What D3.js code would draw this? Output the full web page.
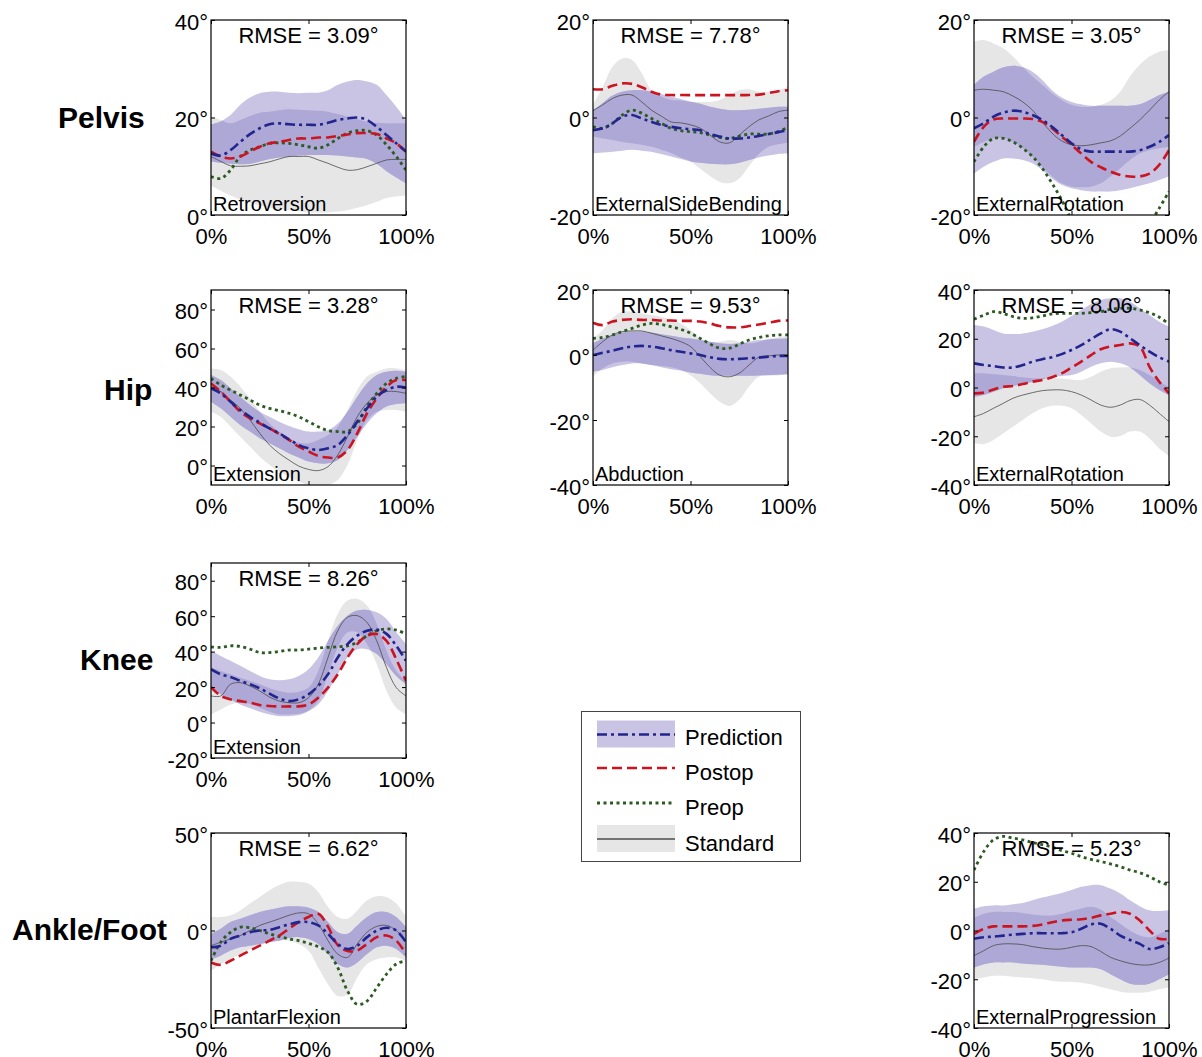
<!DOCTYPE html>
<html><head><meta charset="utf-8">
<script src="https://cdn.jsdelivr.net/npm/d3@7"></script>
<style>
body{margin:0;background:#fff;}
svg{display:block;font-family:"Liberation Sans",Arial,Helvetica,sans-serif;}
</style></head><body>
<svg id="chart" width="1202" height="1057"></svg>
<script>
// gait cycle (%)
const pct = [0,5,10,15,20,25,30,35,40,45,50,55,60,65,70,75,80,85,90,95,100];
const xTicks = [0,50,100];

// ---- Pelvis Retroversion ----
const retroPred   = [12.6,12.2,13.3,15,16.6,17.8,18.6,18.8,18.6,18.5,18.5,18.5,18.9,19.5,19.8,20,19.5,18.1,16.4,14.7,13];
const retroPredHi = [18.6,19.2,20.5,22.6,24.1,25.0,25.3,25.3,25.1,25.0,25.1,25.1,25.6,26.7,27.4,27.7,27.4,26.7,24.6,22.2,19.5];
const retroPredLo = [11,10.7,10.5,10.4,10.5,11,11.5,11.8,12,12.2,12.3,12.3,12.3,12.2,12,11.8,11.5,10.5,9,7.7,6.5];
const retroPost   = [13,12,11.6,12,13,14,14.7,15,15.4,15.7,15.7,15.9,15.9,16.2,16.5,16.8,16.8,16.6,15.7,14.7,13];
const retroPre    = [7.9,7.5,9.2,12,13.3,14,14.7,14.8,14.7,14.4,14,13.7,14.4,15.7,16.8,17.3,17.3,16.4,14.4,12,9.2];
const retroStd    = [12,11,10.1,10,10.1,10.5,10.9,11.5,12,12,12,11.3,10.6,9.8,9.2,9.3,9.9,10.6,11.3,11.4,11.4];
const retroStdHi  = [20.2,19.5,18.8,19.5,20.3,21,21.2,21.5,21.7,21.6,21.5,21.4,21.2,20.7,20.2,19.7,19.1,18.9,18.8,18.8,18.8];
const retroStdLo  = [6,5,4,3.2,2.5,2,1.5,1.2,1,0.8,0.5,0.5,0.5,0.7,1,1.5,2,2.7,3.5,3.8,4];

// ---- Pelvis External Side Bending ----
const sidePred   = [-2.6,-2.2,-1.2,0.2,0.5,-0.2,-0.9,-1.5,-1.9,-2.2,-2.4,-2.6,-3.4,-3.9,-4.3,-4.3,-4.1,-3.8,-3.4,-3,-2.6];
const sidePredHi = [1.5,3,4.5,5.3,5.6,5.6,5.3,4.8,4.3,3.8,3.3,2.8,2.2,1.8,1.5,1.5,1.6,1.8,2.0,2.2,2.2];
const sidePredLo = [-7.4,-7.2,-7,-6.8,-6.6,-6.8,-7,-7.5,-8,-8.5,-9,-9.3,-9.5,-9.6,-9.6,-9.3,-8.7,-8.2,-7.8,-7.5,-7.4];
const sidePost   = [5.8,5.8,6.5,7.0,6.9,6.2,5.3,4.7,4.6,4.6,4.6,4.6,4.6,4.6,4.6,4.6,4.6,4.7,5.0,5.4,5.6];
const sidePre    = [-1.9,-2.2,-1.2,0.5,1.5,0.9,-0.2,-1.2,-2.2,-2.7,-2.9,-3.1,-3.6,-4.1,-4.3,-3.8,-3.4,-3.4,-3.4,-2.9,-2.0];
const sideStd    = [1.4,2.6,3.9,4.6,4.6,3.2,1.5,0.3,-0.9,-1.1,-1.5,-2.2,-3.6,-5.0,-5.2,-3.6,-1.9,-0.5,0.3,1.2,1.5];
const sideStdHi  = [2.6,6.3,10.4,12.1,11.8,9.1,5.6,4.3,3.6,3.5,3.2,3.2,3.2,3.6,4.6,5.6,5.8,5.3,5.3,5.6,6.3];
const sideStdLo  = [-3.9,-4.3,-4.6,-5,-5.3,-5.6,-6,-6.6,-7.3,-8.2,-9,-10.5,-12,-13.2,-13.5,-12.5,-10,-7.5,-6,-5.5,-5.2];

// ---- Pelvis External Rotation ----
const protPred   = [-2.2,-1.2,0.2,1.0,1.4,1.2,0.5,-0.5,-1.9,-3.6,-5.3,-6.5,-7,-7,-7,-7,-7,-6.7,-6,-5,-3.6];
const protPredHi = [6.7,8.4,9.4,10.3,10.6,10.3,9.4,7.7,5.6,4.1,3.2,2.7,2.4,2.4,2.4,2.4,2.4,2.7,3.6,4.6,5.3];
const protPredLo = [-11.5,-10.1,-9.1,-8.4,-8.4,-8.7,-9.4,-10.8,-12.5,-13.8,-14.5,-14.9,-15.2,-15.2,-15.2,-14.9,-14.5,-14,-13.5,-12.8,-12.1];
const protPost   = [-5,-1.9,-0.4,-0.2,-0.2,-0.2,-0.3,-0.9,-2.2,-3.9,-5.6,-7.4,-9.1,-10.2,-11.1,-11.8,-12.1,-12.1,-11.5,-9.7,-6.7];
const protPre    = [-9.1,-6,-4.3,-4.3,-5,-6.3,-8,-10.4,-13.5,-16.9,-21,-24,-27,-29,-30,-29.5,-28,-25.5,-22,-18.6,-15.2];
const protStd    = [5.6,5.8,5.6,5.3,4.4,3.2,1.5,-0.9,-3.2,-4.8,-5.6,-5.8,-5.6,-5.2,-4.8,-3.8,-2.2,-0.5,1.5,3.6,5.3];
const protStdHi  = [15.6,15.9,15.2,14.2,12.5,10.4,8.4,6.7,5,3.6,2.6,2.2,2.2,2.6,3.5,5.3,8.4,10.8,12.5,13.5,13.8];
const protStdLo  = [-6,-5,-4.3,-4.3,-5,-6.3,-8,-10.1,-12.1,-13.5,-14.2,-14.3,-14.2,-13.5,-12.1,-10.4,-8.7,-7.4,-6.7,-6.3,-6];

// ---- Hip Extension ----
const hextPred   = [39.6,37,32.7,28.5,25,22,19,16.5,13.4,10.5,8.8,7.9,8.8,10.5,15.6,22.5,29.3,35.3,38.7,40.4,40];
const hextPredHi = [46.4,43.8,39.6,35.3,31,27.6,25,22.5,20.3,18.6,17.4,17.4,18.2,21.6,27.6,35.3,42.1,46.4,48.1,48.6,48.1];
const hextPredLo = [32.7,29.3,25,20.8,17.4,14,11.4,8.8,6.2,4.1,2,1.1,1.1,2.8,7.9,14.8,21.6,26.8,30.2,31.5,31.9];
const hextPost   = [42.1,37.9,32.7,27.6,24.2,21.6,19,16.2,13.1,9.7,7.2,4.9,4.1,4.1,7.9,16.5,26.8,34.4,40.4,43.8,43.8];
const hextPre    = [44.7,41.3,38.7,36.2,33.6,31,29.3,28.1,26.8,25,22.5,19.9,17.9,17.4,17.4,21.6,30.2,37,42.1,44.7,45.6];
const hextStd    = [40.4,37.9,33.6,29.3,23.3,16.5,10.5,6.2,2.8,-0.3,-2,-2.6,-0.6,5.4,14.8,25,31.9,36.2,37.9,37.9,37];
const hextStdHi  = [49.8,49,45.6,40.4,34.4,27.6,21.6,17.4,14,11.7,11.4,13.1,15.6,19.9,28.5,38.7,45.6,48.1,49.8,49.8,49];
const hextStdLo  = [27.6,25,19.9,14.8,9.7,4.5,0.3,-3.2,-5.7,-8.3,-10,-10.9,-10,-7.4,0.3,13.1,23.3,27.6,28.5,28.5,27.6];

// ---- Hip Abduction ----
const habdPred   = [0,0.7,1.3,2.1,2.6,2.8,2.6,2.1,1.5,1.0,0.5,0,-0.7,-1.2,-1.3,-1.2,-1.0,-0.8,-0.5,-0.3,-0.3];
const habdPredHi = [3.6,5.1,6.2,6.9,7.2,7.2,6.9,6.4,5.9,5.4,5.1,4.6,4.1,3.6,3.4,3.6,4.1,4.6,4.8,5.0,5.1];
const habdPredLo = [-5.1,-4.6,-3.8,-3.1,-2.6,-2.6,-3.1,-3.8,-4.4,-4.8,-5.4,-5.8,-6.2,-6.4,-6.4,-6.4,-6.4,-6.3,-6.2,-6.2,-6];
const habdPost   = [9.9,9.2,10.3,10.8,11,10.8,10.8,10.6,10.6,10.5,10.5,10.3,9.7,8.9,8.5,8.5,8.9,9.4,9.9,10.5,10.6];
const habdPre    = [5.1,5.4,6.2,7.2,8.2,9.2,9.7,9.4,8.7,7.9,6.7,5.1,3.4,2.1,2.1,3.3,4.6,5.4,5.9,6.2,6.2];
const habdStd    = [1.5,4.1,6.2,7.2,7.4,7.4,6.7,5.9,5.1,4.1,2.6,-0.5,-3.8,-6.2,-6.7,-5.6,-3.1,-0.7,-0.3,0,0];
const habdStdHi  = [5.1,7.7,11.3,13.3,13.3,12.8,12.3,11.8,11,9.7,7.7,5.1,4.1,4.1,4.6,4.1,3.6,4,5,5.5,5.8];
const habdStdLo  = [-6.7,-4.1,-2.6,-2.1,-2.1,-2.6,-3.1,-3.4,-3.8,-4.6,-6.2,-8.7,-11.8,-14.4,-15.7,-13.8,-9.7,-6.7,-6.2,-6,-5.8];

// ---- Hip External Rotation ----
const hrotPred   = [9.9,9.2,8.8,8.2,8.2,9.2,10.6,11.6,12.4,13.7,15.4,17.4,19.8,22.2,23.9,22.9,20.2,17.4,14.7,12.4,10.6];
const hrotPredHi = [25.6,25,23.6,22.2,21.9,22.2,22.9,23.9,25.2,27,29.3,31.8,34.3,35.9,36.6,36.6,35.2,32.5,29.7,27,25];
const hrotPredLo = [-3.8,-3.1,-1.7,-0.3,0.6,1.4,2.4,3.3,4.2,4.7,5.1,6.5,8.5,9.9,10.6,9.9,8.2,5.1,1.7,-1,-3.1];
const hrotPost   = [-2.4,-2.1,-0.8,0.3,0.6,1.4,2.4,3.1,4.2,5.8,8.2,10.6,13.3,15.7,16.8,17.4,18.1,16.8,8.5,2.4,-2.4];
const hrotPre    = [28,29.7,31.1,30.4,29.1,28.4,28.6,29.3,30.2,30.4,30.4,30.4,30.7,31.1,32.1,32.5,32.5,31.8,30.7,28.8,26.1];
const hrotStd    = [-12,-10.6,-8.5,-6.5,-4.4,-3.1,-2.1,-1.3,-1,-1,-1.7,-3.1,-5.1,-7.2,-8.1,-7.2,-5.4,-4.9,-7.2,-10.6,-14];
const hrotStdHi  = [5.8,5.8,5.4,5.1,4.7,4.2,3.8,3.8,3.8,3.7,3.3,3.1,4.4,6.5,7.9,8.2,8.2,7.2,5.1,2.4,0.3];
const hrotStdLo  = [-22.9,-23.2,-21.5,-18.8,-16.1,-13.3,-10.6,-8.5,-7.5,-7.5,-8.5,-11.3,-14.7,-18.1,-20.2,-19.9,-18.1,-18.1,-20.9,-25,-28.1];

// ---- Knee Extension ----
const kneePred   = [30.1,27.2,25.7,23.5,21.6,19.3,16.3,13.6,12.1,13.1,15.9,20.6,27.2,36.7,44.3,49,51.8,52.4,50,43.3,34.8];
const kneePredHi = [40.5,37.6,34.8,32,29.1,26.3,24.4,23.8,24.4,26.3,30.1,36.7,46.1,54.6,60.3,63.2,63.5,62.2,58.4,50.9,44.3];
const kneePredLo = [19.7,15.9,13.1,10.2,8,6.1,4.6,3.6,3.6,4.2,6.4,10.2,17.8,27.2,36.7,41.4,41.4,38.6,32.9,26.3,21.6];
const kneePost   = [20,15,13.1,12.1,11.2,9.9,9.3,9.1,9.1,9.1,10.2,14,19.7,27.2,36.7,44.3,49,49.9,46.1,35.7,23.5];
const kneePre    = [42.7,42.4,43.3,42.9,41.4,39.5,39.5,40.1,40.9,40.9,41.4,42,42.4,42.7,43.3,45.2,49,51.8,52.8,52.2,49.9];
const kneeStd    = [15,15,21.6,22.5,20.6,17.8,14.4,12.1,11.2,11.2,14,21.6,36.7,51.8,59.4,60.3,56.5,46.1,31,19.7,15];
const kneeStdHi  = [31,29.1,27.2,25.3,23.5,21.6,19.3,17.8,16.8,17.4,19.7,29.1,46.1,61.3,68.8,69.8,66,55.6,40.5,29.1,23.5];
const kneeStdLo  = [4.6,7.4,10.2,11.2,10.6,8.3,6.1,4.6,4.6,4.9,6.8,12.1,27.2,42.4,50.9,50.9,44.3,32.9,17.8,8.3,4.6];

// ---- Ankle Plantar Flexion ----
const anklePred   = [-8.6,-7.8,-4.3,-2.6,-0.9,0,0.3,1.7,3.1,4.3,4.3,2.6,-1.7,-6.9,-9.5,-7.8,-3.4,0,1.4,0,-6];
const anklePredHi = [-1.7,0.9,4.3,6,7.8,9.5,10.7,11.7,12.4,12.4,11.7,9.5,4.3,-0.9,-1.7,2.6,6.9,9.5,9.5,6.9,1.7];
const anklePredLo = [-14.7,-12.9,-10.3,-8.6,-7.8,-6.9,-6,-5.2,-3.8,-3.4,-4.3,-6.9,-12.1,-17.2,-19,-16.4,-12.1,-8.6,-7.8,-9.5,-13.8];
const anklePost   = [-16.4,-17.6,-15.5,-12.9,-10.3,-7.8,-5.2,-2.6,0.9,4.3,6.9,8.6,2,-7.5,-10.5,-10.3,-6.9,-3.4,-2.6,-5.2,-12.1];
const anklePre    = [-15.5,-6,-0.9,1.7,1.4,0,-1.7,-3.1,-4.3,-5.2,-6.6,-8.3,-11.2,-19,-31,-37.9,-36.2,-29.3,-22.4,-17.2,-15.5];
const ankleStd    = [-7.8,-6,-4.3,-2.6,0,2.6,4.3,6,7.8,9,8.6,3.4,-5.2,-12.1,-13.8,-6.9,-0.9,2.1,2.6,0,-5.2];
const ankleStdHi  = [6.9,6.9,7.8,10.3,13.8,17.2,20.7,23.3,25,25,24.1,19.8,12.1,6.9,6,10.3,15.5,17.6,17.2,13.8,6.9];
const ankleStdLo  = [-20.7,-17.2,-14.7,-12.1,-9.5,-7.8,-6,-5.2,-5.2,-6.9,-10.3,-19,-27.6,-33.6,-32.8,-24.1,-17.2,-14.7,-13.8,-13.8,-15.5];

// ---- Foot External Progression ----
const footPred   = [-3.4,-2.8,-2.5,-2.1,-1.7,-1.4,-1.1,-1.1,-1.1,-1.1,-0.7,0.7,2.5,2.8,0.7,-2.1,-3.9,-5.5,-7.6,-6.9,-5.2];
const footPredHi = [9,10,10.3,10.3,10.8,11.3,12.4,13.5,14.5,15.4,16.6,17.9,18.6,18.6,17.2,15.2,12.4,10,8.3,8,8.3];
const footPredLo = [-15.2,-13.8,-13.1,-13.1,-13.1,-13.5,-13.8,-14.1,-14.5,-14.9,-15.2,-15.2,-15.2,-15.9,-17.9,-20,-21.8,-22.3,-21.8,-20,-17.9];
const footPost   = [-1.4,0.7,1.7,1.7,1.7,1.7,1.9,2.5,3.4,4.1,4.4,4.6,5.2,6.2,6.9,7.6,6.9,4.1,0,-3.4,-3.4];
const footPre    = [24.8,32.4,37.2,38.6,37.9,37.2,36.1,35.2,34.2,32.8,31.7,30.3,29.2,28.3,27.3,26.2,24.8,23.7,22.1,20,18.6];
const footStd    = [-10.3,-8.3,-6.2,-5.5,-5.5,-5.8,-6.6,-7.2,-7.6,-7.6,-6.9,-6.2,-6.6,-8.6,-11,-12.4,-13.5,-14.1,-14.1,-13.1,-11.3];
const footStdHi  = [5.2,6.9,7.6,7.6,7.6,7.2,6.6,6.2,6.2,6.9,8,9,9.7,8.6,5.5,2.8,0,-2.1,-2.8,-1.4,0.7];
const footStdLo  = [-20,-19.3,-18.6,-18.6,-19,-19.3,-19.6,-20,-20.7,-21,-21,-21.4,-22.1,-23.2,-24.1,-25.1,-25.5,-25.5,-25.1,-24.1,-23.4];

// panel text / axes
const rowLabels = ["Pelvis","Hip","Knee","Ankle/Foot"];
const panelLabels = ["Retroversion","ExternalSideBending","ExternalRotation","Extension","Abduction","ExternalRotation","Extension","PlantarFlexion","ExternalProgression"];
const rmseValues = ["3.09","7.78","3.05","3.28","9.53","8.06","8.26","6.62","5.23"];
const yTickSets = [[0,20,40],[-20,0,20],[-20,0,20],[0,20,40,60,80],[-40,-20,0,20],[-40,-20,0,20,40],[-20,0,20,40,60,80],[-50,0,50],[-40,-20,0,20,40]];
const yDomains = [[0,40],[-20,20],[-20,20],[-10,90],[-40,20],[-40,40],[-20,90],[-50,50],[-40,40]];
const legendNames = ["Prediction","Postop","Preop","Standard"];

const seriesSets = [
  [retroPred,retroPredLo,retroPredHi,retroPost,retroPre,retroStd,retroStdLo,retroStdHi],
  [sidePred,sidePredLo,sidePredHi,sidePost,sidePre,sideStd,sideStdLo,sideStdHi],
  [protPred,protPredLo,protPredHi,protPost,protPre,protStd,protStdLo,protStdHi],
  [hextPred,hextPredLo,hextPredHi,hextPost,hextPre,hextStd,hextStdLo,hextStdHi],
  [habdPred,habdPredLo,habdPredHi,habdPost,habdPre,habdStd,habdStdLo,habdStdHi],
  [hrotPred,hrotPredLo,hrotPredHi,hrotPost,hrotPre,hrotStd,hrotStdLo,hrotStdHi],
  [kneePred,kneePredLo,kneePredHi,kneePost,kneePre,kneeStd,kneeStdLo,kneeStdHi],
  [anklePred,anklePredLo,anklePredHi,anklePost,anklePre,ankleStd,ankleStdLo,ankleStdHi],
  [footPred,footPredLo,footPredHi,footPost,footPre,footStd,footStdLo,footStdHi]
];
const panelCell = [[0,0],[1,0],[2,0],[0,1],[1,1],[2,1],[0,2],[0,3],[2,3]];

// ---- styles / layout ----
const colX = [211,593,974], rowY = [20,290,563,833], W = 195, H = 195;
const C = {
  grey:"#e6e6e6", purple:"#c9c4e4", purpleDark:"#aea8d6",
  blue:"#23258e", red:"#cc1420", green:"#2c5a22", std:"#4a4a4a"
};
const STY = {
  pred:{stroke:C.blue,width:2.6,dash:"10,4,3,4"},
  post:{stroke:C.red,width:2.6,dash:"10,5"},
  pre:{stroke:C.green,width:2.8,dash:"3,3.5"},
  std:{stroke:C.std,width:0.8,dash:null}
};
const FONT = '"Liberation Sans",Arial,Helvetica,sans-serif';

const svg = d3.select("#chart");
const defs = svg.append("defs");
const x = d3.scaleLinear().domain([0,100]).range([0,W]);
const curve = d3.curveCatmullRom.alpha(0.5);

seriesSets.forEach((S,i)=>{
  const [pred,predLo,predHi,post,pre,std,stdLo,stdHi] = S;
  const [c,r] = panelCell[i];
  const g = svg.append("g").attr("transform",`translate(${colX[c]},${rowY[r]})`);
  const y = d3.scaleLinear().domain(yDomains[i]).range([H,0]);
  const band = (lo,hi)=> d3.area().x((d,j)=>x(pct[j])).y0((d,j)=>y(lo[j])).y1((d,j)=>y(hi[j])).curve(curve)(pct);
  const line = (s)=> d3.line().x((d,j)=>x(pct[j])).y(d=>y(d)).curve(curve)(s);

  defs.append("clipPath").attr("id","box"+i).append("rect").attr("width",W).attr("height",H);
  defs.append("clipPath").attr("id","std"+i).append("path").attr("d",band(stdLo,stdHi));

  g.append("rect").attr("width",W).attr("height",H).attr("fill","#fff");
  const pg = g.append("g").attr("clip-path",`url(#box${i})`);
  pg.append("path").attr("d",band(stdLo,stdHi)).attr("fill",C.grey);
  pg.append("path").attr("d",band(predLo,predHi)).attr("fill",C.purple);
  pg.append("g").attr("clip-path",`url(#std${i})`)
    .append("path").attr("d",band(predLo,predHi)).attr("fill",C.purpleDark);
  [[std,STY.std],[pre,STY.pre],[post,STY.post],[pred,STY.pred]].forEach(([s,st])=>{
    pg.append("path").attr("d",line(s)).attr("fill","none")
      .attr("stroke",st.stroke).attr("stroke-width",st.width)
      .attr("stroke-dasharray",st.dash);
  });

  // axes with inward ticks
  const yl = g.append("g").call(d3.axisLeft(y).tickValues(yTickSets[i]).tickSize(-4).tickFormat(d=>d+"\u00b0"));
  const yr = g.append("g").attr("transform",`translate(${W},0)`).call(d3.axisRight(y).tickValues(yTickSets[i]).tickSize(-4).tickFormat(""));
  const xb = g.append("g").attr("transform",`translate(0,${H})`).call(d3.axisBottom(x).tickValues(xTicks).tickSize(-4).tickFormat(d=>d+"%"));
  const xt = g.append("g").call(d3.axisTop(x).tickValues(xTicks).tickSize(-4).tickFormat(""));
  [yl,yr,xb,xt].forEach(a=>{
    a.select(".domain").remove();
    a.attr("font-family",FONT).attr("font-size",22).attr("color","#000");
    a.selectAll(".tick line").attr("stroke","#000").attr("stroke-width",1);
  });
  yl.selectAll("text").attr("x",-3).attr("dy",null).attr("y",9);
  xb.selectAll("text").attr("y",29).attr("dy",null);

  g.append("rect").attr("width",W).attr("height",H).attr("fill","none").attr("stroke","#000").attr("stroke-width",1.2);

  g.append("text").attr("x",W/2).attr("y",23).attr("text-anchor","middle")
    .attr("font-size",22).attr("font-family",FONT).text(`RMSE = ${rmseValues[i]}\u00b0`);
  g.append("text").attr("x",2).attr("y",H-4.5)
    .attr("font-size",20).attr("font-family",FONT).text(panelLabels[i]);
});

// row labels
const rowLabelPos = [[58,128],[104,400],[80,670],[12,940]];
rowLabels.forEach((t,k)=>{
  svg.append("text").attr("x",rowLabelPos[k][0]).attr("y",rowLabelPos[k][1])
    .attr("font-size",30).attr("font-weight","bold").attr("font-family",FONT).text(t);
});

// legend
const lg = svg.append("g");
lg.append("rect").attr("x",581.5).attr("y",711.5).attr("width",219).attr("height",150)
  .attr("fill","#fff").attr("stroke","#444").attr("stroke-width",1);
const lx0 = 597, lx1 = 675;
const legRows = [
  {name:legendNames[0], ly:734.5, ty:744.5, fill:C.purple, st:STY.pred},
  {name:legendNames[1], ly:768, ty:780, fill:null, st:STY.post},
  {name:legendNames[2], ly:803, ty:815, fill:null, st:STY.pre},
  {name:legendNames[3], ly:839, ty:851, fill:C.grey, st:{stroke:"#000",width:1,dash:null}}
];
legRows.forEach(e=>{
  if(e.fill) lg.append("rect").attr("x",lx0).attr("y",e.ly-14).attr("width",lx1-lx0).attr("height",27).attr("fill",e.fill);
  lg.append("line").attr("x1",lx0).attr("x2",lx1).attr("y1",e.ly).attr("y2",e.ly)
    .attr("stroke",e.st.stroke).attr("stroke-width",e.st.width).attr("stroke-dasharray",e.st.dash);
  lg.append("text").attr("x",685).attr("y",e.ty).attr("font-size",22).attr("font-family",FONT).text(e.name);
});
</script>
</body></html>
